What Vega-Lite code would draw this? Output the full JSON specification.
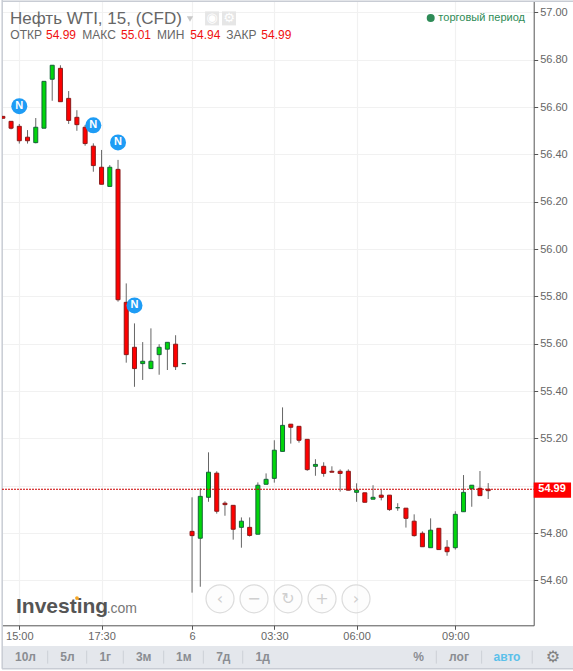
{
"$schema":"https://vega.github.io/schema/vega-lite/v6.json",
"width":531.7,"height":624.3,
"autosize":{"type":"none"},
"padding":{"left":2,"top":1,"right":39.3,"bottom":45.7},
"background":"white",
"view":{"stroke":null},
"config":{"font":"Liberation Sans"},
"datasets":{
"candles":[
{"i":-2,"o":56.561,"h":56.561,"l":56.553,"c":56.553},
{"i":-1,"o":56.54,"h":56.54,"l":56.506,"c":56.511},
{"i":0,"o":56.519,"h":56.529,"l":56.446,"c":56.458},
{"i":1,"o":56.473,"h":56.503,"l":56.446,"c":56.458},
{"i":2,"o":56.45,"h":56.554,"l":56.447,"c":56.515},
{"i":3,"o":56.511,"h":56.709,"l":56.511,"c":56.709},
{"i":4,"o":56.718,"h":56.777,"l":56.627,"c":56.777},
{"i":5,"o":56.764,"h":56.777,"l":56.623,"c":56.623},
{"i":6,"o":56.637,"h":56.668,"l":56.529,"c":56.544},
{"i":7,"o":56.557,"h":56.587,"l":56.5,"c":56.526},
{"i":8,"o":56.515,"h":56.525,"l":56.437,"c":56.446},
{"i":9,"o":56.435,"h":56.447,"l":56.327,"c":56.353},
{"i":10,"o":56.346,"h":56.419,"l":56.274,"c":56.274},
{"i":11,"o":56.265,"h":56.355,"l":56.265,"c":56.346},
{"i":12,"o":56.337,"h":56.377,"l":55.778,"c":55.786},
{"i":13,"o":55.775,"h":55.855,"l":55.52,"c":55.554},
{"i":14,"o":55.585,"h":55.686,"l":55.418,"c":55.495},
{"i":15,"o":55.516,"h":55.607,"l":55.447,"c":55.526},
{"i":16,"o":55.495,"h":55.665,"l":55.495,"c":55.526},
{"i":17,"o":55.554,"h":55.598,"l":55.469,"c":55.585},
{"i":18,"o":55.577,"h":55.606,"l":55.489,"c":55.606},
{"i":19,"o":55.598,"h":55.636,"l":55.489,"c":55.503},
{"i":20,"o":55.516,"h":55.516,"l":55.516,"c":55.516},
{"i":21,"o":54.807,"h":54.951,"l":54.548,"c":54.789},
{"i":22,"o":54.778,"h":54.989,"l":54.573,"c":54.955},
{"i":23,"o":54.951,"h":55.141,"l":54.932,"c":55.057},
{"i":24,"o":55.053,"h":55.061,"l":54.882,"c":54.892},
{"i":25,"o":54.926,"h":54.934,"l":54.873,"c":54.92},
{"i":26,"o":54.917,"h":54.917,"l":54.772,"c":54.816},
{"i":27,"o":54.824,"h":54.866,"l":54.738,"c":54.85},
{"i":28,"o":54.824,"h":54.866,"l":54.785,"c":54.79},
{"i":29,"o":54.795,"h":55.014,"l":54.795,"c":55.002},
{"i":30,"o":55.006,"h":55.052,"l":55.006,"c":55.027},
{"i":31,"o":55.031,"h":55.192,"l":55.013,"c":55.15},
{"i":32,"o":55.145,"h":55.331,"l":55.145,"c":55.255},
{"i":33,"o":55.26,"h":55.26,"l":55.178,"c":55.247},
{"i":34,"o":55.251,"h":55.251,"l":55.182,"c":55.192},
{"i":35,"o":55.196,"h":55.196,"l":55.063,"c":55.068},
{"i":36,"o":55.082,"h":55.112,"l":55.042,"c":55.09},
{"i":37,"o":55.082,"h":55.099,"l":55.038,"c":55.052},
{"i":38,"o":55.061,"h":55.082,"l":55.057,"c":55.057},
{"i":39,"o":55.061,"h":55.069,"l":54.975,"c":55.052},
{"i":40,"o":55.061,"h":55.069,"l":54.981,"c":54.981},
{"i":41,"o":54.972,"h":55.01,"l":54.932,"c":54.981},
{"i":42,"o":54.97,"h":54.97,"l":54.93,"c":54.93},
{"i":43,"o":54.943,"h":55.002,"l":54.943,"c":54.951},
{"i":44,"o":54.96,"h":54.982,"l":54.938,"c":54.951},
{"i":45,"o":54.96,"h":54.96,"l":54.894,"c":54.899},
{"i":46,"o":54.907,"h":54.926,"l":54.894,"c":54.907},
{"i":47,"o":54.905,"h":54.905,"l":54.823,"c":54.862},
{"i":48,"o":54.85,"h":54.879,"l":54.785,"c":54.789},
{"i":49,"o":54.799,"h":54.807,"l":54.742,"c":54.742},
{"i":50,"o":54.738,"h":54.862,"l":54.738,"c":54.812},
{"i":51,"o":54.82,"h":54.82,"l":54.73,"c":54.73},
{"i":52,"o":54.74,"h":54.77,"l":54.704,"c":54.721},
{"i":53,"o":54.738,"h":54.892,"l":54.73,"c":54.879},
{"i":54,"o":54.89,"h":55.045,"l":54.89,"c":54.972},
{"i":55,"o":54.987,"h":55.002,"l":54.911,"c":55.002},
{"i":56,"o":54.989,"h":55.062,"l":54.958,"c":54.958},
{"i":57,"o":54.985,"h":55.011,"l":54.944,"c":54.979}
]
},
"encoding":{
  "x":{"field":"i","type":"quantitative","title":null,"scale":{"domain":[-2.103,62.53],"nice":false,"zero":false,"padding":0},
   "axis":{"orient":"bottom","values":[0,10,21,31,41,53],"labelExpr":"datum.value==0?'15:00':datum.value==10?'17:30':datum.value==21?'6':datum.value==31?'03:30':datum.value==41?'06:00':'09:00'","grid":true,"gridColor":"#f1f1f1","gridWidth":1.2,"domainColor":"#555","tickColor":"#555","tickSize":4,"labelColor":"#666","labelFontSize":11,"labelPadding":1,"labelFont":"Liberation Sans","labelOverlap":false,"labelFlush":false}},
  "y":{"field":"p","type":"quantitative","title":null,"scale":{"domain":[54.41,57.0486],"nice":false,"zero":false},
   "axis":{"orient":"right","values":[54.6,54.8,55,55.2,55.4,55.6,55.8,56,56.2,56.4,56.6,56.8,57],"labelExpr":"datum.value==55?'':format(datum.value,'.2f')","grid":true,"gridColor":"#f1f1f1","gridWidth":1.2,"domainColor":"#555","tickColor":"#555","tickSize":4,"labelColor":"#666","labelFontSize":11,"labelPadding":2,"labelFont":"Liberation Sans","labelOverlap":false,"labelFlush":false}}
},
"layer":[
{"data":{"values":[{"i":-2.103,"i2":67.31,"p":54.322,"p2":54.228}]},"mark":{"type":"rect","color":"#e4e7ec","clip":false},
 "encoding":{"x2":{"field":"i2"},"y2":{"field":"p2"}}},
{"data":{"values":[{"i":-2.103,"i2":67.31,"p":54.226}]},"mark":{"type":"rule","color":"#c8ccd4","strokeWidth":1.5,"clip":false},
 "encoding":{"x2":{"field":"i2"}}},
{"data":{"values":[{"i":-2.1,"i2":67.31,"p":57.048}]},"mark":{"type":"rule","color":"#c8ccd4","strokeWidth":1.5,"clip":false},
 "encoding":{"x2":{"field":"i2"}}},
{"data":{"values":[{"i":-2.08,"p":57.053,"p2":54.226}]},"mark":{"type":"rule","color":"#c8ccd4","strokeWidth":1.5,"clip":false},
 "encoding":{"y2":{"field":"p2"}}},
{"data":{"values":[{"i":3.45,"p":54.303,"p2":54.248},{"i":8.19,"p":54.303,"p2":54.248},{"i":12.64,"p":54.303,"p2":54.248},{"i":17.55,"p":54.303,"p2":54.248},{"i":22.37,"p":54.303,"p2":54.248},{"i":27.16,"p":54.303,"p2":54.248},{"i":50.69,"p":54.303,"p2":54.248},{"i":56.2,"p":54.303,"p2":54.248},{"i":62.35,"p":54.303,"p2":54.248}]},
 "mark":{"type":"rule","color":"#ccd0d6","clip":false},"encoding":{"y2":{"field":"p2"}}},
{"data":{"name":"candles"},"mark":{"type":"rule","color":"#666","strokeWidth":1,"clip":true},
 "encoding":{"y":{"field":"l","type":"quantitative","title":null,"scale":{"domain":[54.41,57.0486],"nice":false,"zero":false}},"y2":{"field":"h"}}},
{"data":{"name":"candles"},"mark":{"type":"bar","size":4,"strokeWidth":1,"clip":true},
 "encoding":{"y":{"field":"o","type":"quantitative","title":null,"scale":{"domain":[54.41,57.0486],"nice":false,"zero":false}},"y2":{"field":"c"},
  "fill":{"condition":{"test":"datum.c>=datum.o","value":"#00d60a"},"value":"#ff0000"},
  "stroke":{"condition":{"test":"datum.c>=datum.o","value":"#17633a"},"value":"#8a1a1a"}}},
{"data":{"values":[{"i":-2.103,"i2":62.53,"p":54.985}]},"mark":{"type":"rule","color":"#cc0000","strokeWidth":1,"strokeDash":[2,1]},
 "encoding":{"x2":{"field":"i2"}}},
{"data":{"values":[{"i":24.4,"p":54.522,"g":"‹"},{"i":28.53,"p":54.522,"g":"−"},{"i":32.66,"p":54.522,"g":"↻"},{"i":36.8,"p":54.522,"g":"+"},{"i":40.93,"p":54.522,"g":"›"}]},
 "layer":[
 {"mark":{"type":"point","shape":"circle","size":784,"filled":true,"fill":"#fafafa","fillOpacity":0.45,"stroke":"#dcdcdc","strokeWidth":1.2,"opacity":1}},
 {"mark":{"type":"text","font":"DejaVu Sans","fontSize":16,"color":"#cfcfcf","baseline":"middle","align":"center"},
  "encoding":{"text":{"field":"g"}}}
 ]},
{"data":{"values":[{"i":0,"p":56.604},{"i":9,"p":56.523},{"i":12,"p":56.451},{"i":14,"p":55.762}]},
 "layer":[
 {"mark":{"type":"point","shape":"circle","size":256,"filled":true,"color":"#1e9cf5","opacity":1}},
 {"mark":{"type":"text","text":"N","fontSize":11,"fontWeight":"bold","color":"white","baseline":"middle","align":"center"}}
 ]},
{"data":{"values":[{"i":-1.13,"p":56.951,"t":"Нефть WTI, 15, (CFD)"}]},"mark":{"type":"text","fontSize":17,"color":"#666","align":"left","baseline":"alphabetic"},
 "encoding":{"text":{"field":"t"}}},
{"data":{"values":[{"i":-1.094,"p":56.887,"t":"ОТКР"},{"i":7.659,"p":56.887,"t":"МАКС"},{"i":16.74,"p":56.887,"t":"МИН"},{"i":25.16,"p":56.887,"t":"ЗАКР"}]},"mark":{"type":"text","fontSize":12,"color":"#666","align":"left","baseline":"alphabetic"},
 "encoding":{"text":{"field":"t"}}},
{"data":{"values":[{"i":3.246,"p":56.887,"t":"54.99"},{"i":12.36,"p":56.887,"t":"55.01"},{"i":20.79,"p":56.887,"t":"54.94"},{"i":29.42,"p":56.887,"t":"54.99"}]},"mark":{"type":"text","fontSize":12,"color":"#f01010","align":"left","baseline":"alphabetic"},
 "encoding":{"text":{"field":"t"}}},
{"data":{"values":[{"i":20.75,"p":56.973}]},"mark":{"type":"point","shape":"triangle-down","size":40,"filled":true,"color":"#c8c8c8","opacity":1}},
{"data":{"values":[{"i":23.43,"p":56.975},{"i":25.49,"p":56.975}]},"mark":{"type":"point","shape":"square","size":196,"filled":true,"color":"#e6e6e6","opacity":1}},
{"data":{"values":[{"i":23.43,"p":56.975,"t":"◉"},{"i":25.49,"p":56.975,"t":"⚙"}]},"mark":{"type":"text","font":"DejaVu Sans","fontSize":13,"color":"white","align":"center","baseline":"middle"},
 "encoding":{"text":{"field":"t"}}},
{"data":{"values":[{"i":50.01,"p":56.977}]},"mark":{"type":"point","shape":"circle","size":64,"filled":true,"color":"#2e8b57","opacity":1}},
{"data":{"values":[{"i":50.94,"p":56.977,"t":"торговый период"}]},"mark":{"type":"text","fontSize":11,"color":"#2e8b57","align":"left","baseline":"middle"},
 "encoding":{"text":{"field":"t"}}},
{"data":{"values":[{"i":-0.4,"p":54.461,"t":"Investing"}]},"mark":{"type":"text","fontSize":21,"fontWeight":"bold","color":"#555","align":"left","baseline":"alphabetic"},
 "encoding":{"text":{"field":"t"}}},
{"data":{"values":[{"i":10.62,"p":54.461,"t":".com"}]},"mark":{"type":"text","fontSize":14,"color":"#777","align":"left","baseline":"alphabetic"},
 "encoding":{"text":{"field":"t"}}},
{"data":{"values":[{"i":7.01,"p":54.525}]},"mark":{"type":"point","shape":"circle","size":14,"filled":true,"color":"#f5a623","opacity":1}},
{"data":{"values":[{"i":62.53,"i2":67.07,"p":55.014,"p2":54.949}]},"mark":{"type":"rect","color":"#ff0000","clip":false},
 "encoding":{"x2":{"field":"i2"},"y2":{"field":"p2"}}},
{"data":{"values":[{"i":64.76,"p":54.985,"t":"54.99"}]},"mark":{"type":"text","fontSize":11,"fontWeight":"bold","color":"white","align":"center","baseline":"middle"},
 "encoding":{"text":{"field":"t"}}},
{"data":{"values":[{"i":0.75,"p":54.276,"t":"10л"},{"i":5.84,"p":54.276,"t":"5л"},{"i":10.45,"p":54.276,"t":"1г"},{"i":15.12,"p":54.276,"t":"3м"},{"i":19.99,"p":54.276,"t":"1м"},{"i":24.8,"p":54.276,"t":"7д"},{"i":29.59,"p":54.276,"t":"1д"},{"i":48.55,"p":54.276,"t":"%"},{"i":53.45,"p":54.276,"t":"лог"}]},"mark":{"type":"text","fontSize":12,"fontWeight":"bold","color":"#8a8d92","align":"center","baseline":"middle"},
 "encoding":{"text":{"field":"t"}}},
{"data":{"values":[{"i":59.28,"p":54.276,"t":"авто"}]},"mark":{"type":"text","fontSize":12,"fontWeight":"bold","color":"#5bc0ea","align":"center","baseline":"middle"},
 "encoding":{"text":{"field":"t"}}},
{"data":{"values":[{"i":64.88,"p":54.276,"t":"⚙"}]},"mark":{"type":"text","font":"DejaVu Sans","fontSize":16,"color":"#808080","align":"center","baseline":"middle"},
 "encoding":{"text":{"field":"t"}}}
]
}
